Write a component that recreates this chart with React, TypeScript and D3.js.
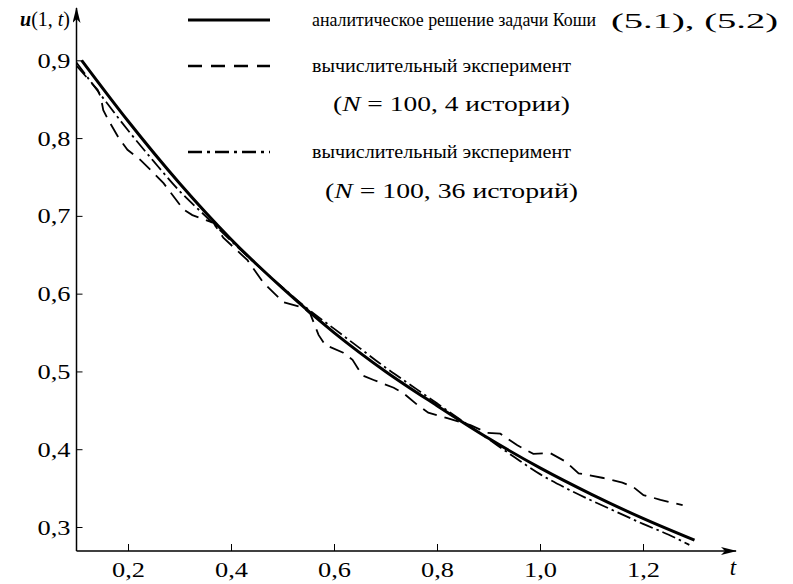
import React, { useEffect, useRef } from 'react';
import * as d3 from 'd3';

// analytic solution of the Cauchy problem
const tExact = [0.11, 0.2, 0.3, 0.4, 0.5, 0.6, 0.7, 0.8, 0.9, 1.0, 1.1, 1.2, 1.3];
const uExact = [0.9, 0.822, 0.742, 0.67, 0.607, 0.55, 0.5, 0.456, 0.414, 0.376, 0.342, 0.311, 0.283];

// computational experiment, N = 100, 4 histories
const t4 = [0.1, 0.141, 0.147, 0.152, 0.162, 0.182, 0.199, 0.224, 0.244, 0.269, 0.308, 0.325, 0.366,
  0.385, 0.432, 0.463, 0.502, 0.541, 0.554, 0.57, 0.583, 0.618, 0.636, 0.655, 0.677, 0.716, 0.735,
  0.762, 0.783, 0.82, 0.865, 0.898, 0.923, 0.956, 0.987, 1.02, 1.05, 1.075, 1.123, 1.16, 1.182,
  1.201, 1.234, 1.277];
const u4 = [0.893, 0.862, 0.853, 0.836, 0.823, 0.8, 0.785, 0.772, 0.759, 0.742, 0.708, 0.701, 0.691,
  0.672, 0.643, 0.614, 0.589, 0.582, 0.574, 0.547, 0.534, 0.524, 0.515, 0.495, 0.489, 0.479, 0.472,
  0.457, 0.447, 0.44, 0.431, 0.421, 0.42, 0.405, 0.394, 0.395, 0.384, 0.369, 0.363, 0.357, 0.351,
  0.341, 0.335, 0.328];

// computational experiment, N = 100, 36 histories
const t36 = [0.1, 0.15, 0.2, 0.25, 0.3, 0.35, 0.4, 0.45, 0.5, 0.55, 0.6, 0.65, 0.7, 0.75, 0.8, 0.85,
  0.9, 0.95, 1.0, 1.05, 1.1, 1.15, 1.2, 1.25, 1.29];
const u36 = [0.897, 0.853, 0.81, 0.77, 0.732, 0.7, 0.668, 0.637, 0.608, 0.58, 0.555, 0.53, 0.505,
  0.482, 0.459, 0.436, 0.413, 0.39, 0.368, 0.35, 0.334, 0.319, 0.304, 0.29, 0.277];

const yTicks = [0.3, 0.4, 0.5, 0.6, 0.7, 0.8, 0.9];
const xTicks = [0.2, 0.4, 0.6, 0.8, 1.0, 1.2];

const legendLabels = [
  'аналитическое решение задачи Коши',
  'вычислительный эксперимент',
  'вычислительный эксперимент',
];

const FONT = "'Liberation Serif', 'DejaVu Serif', serif";

const App = () => {
  const svgRef = useRef<SVGSVGElement>(null);
  const width = 793;
  const height = 584;

  useEffect(() => {
    const svg = d3.select(svgRef.current);
    svg.selectAll('*').remove();

    const x = d3.scaleLinear().domain([0.2, 1.2]).range([128, 643]);
    const y = d3.scaleLinear().domain([0.3, 0.9]).range([527, 60.3]);

    const x0 = x(0.1);
    const y0 = 551;

    const fmt = (d: number) => d3.format('.1f')(d).replace('.', ',');

    // arrow marker
    const defs = svg.append('defs');
    defs.append('marker')
      .attr('id', 'arrow')
      .attr('viewBox', '0 0 16 8')
      .attr('refX', 15)
      .attr('refY', 4)
      .attr('markerWidth', 16)
      .attr('markerHeight', 8)
      .attr('markerUnits', 'userSpaceOnUse')
      .attr('orient', 'auto')
      .append('path')
      .attr('d', 'M0,0 L16,4 L0,8 L4,4 Z')
      .attr('fill', '#000');

    // axes lines
    svg.append('line')
      .attr('x1', x0).attr('x2', 736)
      .attr('y1', y0).attr('y2', y0)
      .attr('stroke', '#000').attr('stroke-width', 1.5)
      .attr('marker-end', 'url(#arrow)');
    svg.append('line')
      .attr('x1', x0).attr('x2', x0)
      .attr('y1', y0).attr('y2', 8)
      .attr('stroke', '#000').attr('stroke-width', 1.5)
      .attr('marker-end', 'url(#arrow)');

    // y axis ticks
    const yAxis = d3.axisLeft(y).tickValues(yTicks).tickSize(-6).tickPadding(6).tickFormat(fmt as any);
    const gy = svg.append('g').attr('transform', `translate(${x0},0)`).call(yAxis);
    gy.attr('font-family', null).attr('font-size', null);
    gy.select('.domain').remove();
    gy.selectAll('line').attr('stroke', '#000');
    gy.selectAll('text')
      .style('font-family', FONT)
      .style('font-size', '22px')
      .attr('textLength', 33)
      .attr('lengthAdjust', 'spacingAndGlyphs')
      .attr('fill', '#000');

    // x axis ticks
    const xAxis = d3.axisBottom(x).tickValues(xTicks).tickSize(-7).tickPadding(10).tickFormat(fmt as any);
    const gx = svg.append('g').attr('transform', `translate(0,${y0})`).call(xAxis);
    gx.attr('font-family', null).attr('font-size', null);
    gx.select('.domain').remove();
    gx.selectAll('line').attr('stroke', '#000');
    gx.selectAll('text')
      .style('font-family', FONT)
      .style('font-size', '22px')
      .attr('textLength', 33)
      .attr('lengthAdjust', 'spacingAndGlyphs')
      .attr('fill', '#000');

    // axis titles
    const yl = svg.append('text')
      .attr('x', 20).attr('y', 26)
      .style('font-family', FONT).style('font-size', '20px');
    yl.append('tspan').attr('font-style', 'italic').attr('font-weight', 'bold').text('u');
    yl.append('tspan').text('(1, ');
    yl.append('tspan').attr('font-style', 'italic').text('t');
    yl.append('tspan').text(')');

    svg.append('text')
      .attr('x', 733).attr('y', 575)
      .attr('text-anchor', 'middle')
      .style('font-family', FONT).style('font-size', '23px')
      .attr('font-style', 'italic')
      .text('t');

    const line = d3.line<[number, number]>()
      .x(d => x(d[0]))
      .y(d => y(d[1]));

    const series = [
      { t: tExact, u: uExact, dash: null, width: 3, curve: d3.curveMonotoneX },
      { t: t4, u: u4, dash: '15,8', width: 1.8, curve: d3.curveLinear },
      { t: t36, u: u36, dash: '14,4,2.5,4', width: 1.8, curve: d3.curveMonotoneX },
    ];

    series.forEach(s => {
      const pts = s.t.map((t, i) => [t, s.u[i]] as [number, number]);
      svg.append('path')
        .datum(pts)
        .attr('fill', 'none')
        .attr('stroke', '#000')
        .attr('stroke-width', s.width)
        .attr('stroke-dasharray', s.dash)
        .attr('d', line.curve(s.curve)(pts));
    });

    // legend
    const legendY = [20, 66, 152];
    series.forEach((s, i) => {
      svg.append('line')
        .attr('x1', 188).attr('x2', 270)
        .attr('y1', legendY[i]).attr('y2', legendY[i])
        .attr('stroke', '#000')
        .attr('stroke-width', i === 0 ? 3 : 2.5)
        .attr('stroke-dasharray', i === 0 ? null : (i === 1 ? '14,9' : '14,5,3,5'));
      svg.append('text')
        .attr('x', 312).attr('y', legendY[i] + 6)
        .style('font-family', FONT)
        .style('font-size', '18px')
        .attr('textLength', i === 0 ? 284 : 259)
        .attr('lengthAdjust', 'spacingAndGlyphs')
        .text(legendLabels[i]);
    });

    svg.append('text')
      .attr('x', 611).attr('y', 28)
      .style('font-family', FONT).style('font-size', '22px')
      .attr('textLength', 167)
      .attr('lengthAdjust', 'spacingAndGlyphs')
      .text('(5.1), (5.2)');

    const note = (xPos: number, yPos: number, len: number, rest: string) => {
      const tx = svg.append('text')
        .attr('x', xPos).attr('y', yPos)
        .style('font-family', FONT).style('font-size', '22px')
        .attr('textLength', len)
        .attr('lengthAdjust', 'spacingAndGlyphs');
      tx.append('tspan').text('(');
      tx.append('tspan').attr('font-style', 'italic').text('N');
      tx.append('tspan').text(rest);
    };
    note(333, 111, 237, ' = 100, 4 истории)');
    note(325, 198, 253, ' = 100, 36 историй)');
  }, []);

  return (
    <svg
      ref={svgRef}
      width={width}
      height={height}
      style={{ position: 'absolute', left: 0, top: 0, background: '#fff' }}
    />
  );
};

export default App;
